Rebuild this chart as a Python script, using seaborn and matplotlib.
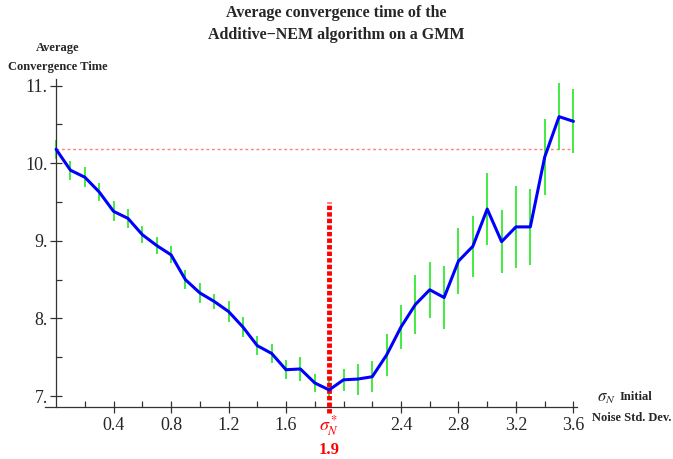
import numpy as np
import matplotlib
matplotlib.use("Agg")
import matplotlib.pyplot as plt
import seaborn as sns

# noise std values and average convergence times
sigma = [0.0, 0.1, 0.2, 0.3, 0.4, 0.5, 0.6, 0.7, 0.8, 0.9,
         1.0, 1.1, 1.2, 1.3, 1.4, 1.5, 1.6, 1.7, 1.8, 1.9,
         2.0, 2.1, 2.2, 2.3, 2.4, 2.5, 2.6, 2.7, 2.8, 2.9,
         3.0, 3.1, 3.2, 3.3, 3.4, 3.5, 3.6]
avg_time = [10.18, 9.91, 9.82, 9.63, 9.38, 9.29, 9.08, 8.94, 8.82, 8.50,
            8.33, 8.22, 8.09, 7.89, 7.65, 7.55, 7.34, 7.35, 7.17, 7.08,
            7.21, 7.22, 7.25, 7.53, 7.89, 8.18, 8.37, 8.27, 8.74, 8.93,
            9.41, 8.99, 9.18, 9.18, 10.08, 10.60, 10.54]
err = [0.125, 0.125, 0.13, 0.12, 0.13, 0.12, 0.11, 0.11, 0.11, 0.12,
       0.13, 0.10, 0.13, 0.13, 0.12, 0.12, 0.12, 0.15, 0.12, 0.13,
       0.14, 0.20, 0.20, 0.27, 0.28, 0.38, 0.36, 0.41, 0.43, 0.39,
       0.46, 0.41, 0.53, 0.49, 0.49, 0.43, 0.41]

best_sigma = 1.9
x_major = [0.4, 0.8, 1.2, 1.6, 2.4, 2.8, 3.2, 3.6]
x_minor = [0.2, 0.6, 1.0, 1.4, 1.8, 2.0, 2.2, 2.6, 3.0, 3.4]
y_major = [7, 8, 9, 10, 11]
y_minor = [7.5, 8.5, 9.5, 10.5]

sns.set_style("white")
plt.rcParams["font.family"] = ["Liberation Serif", "DejaVu Serif"]
plt.rcParams["mathtext.fontset"] = "stix"

fig = plt.figure(figsize=(6.73, 4.59), dpi=100)
ax = fig.add_axes([0.0669, 0.1133, 0.7905, 0.7137])

# error bars
ax.errorbar(sigma, avg_time, yerr=err, fmt="none", ecolor="#22e622",
            elinewidth=1.2, capsize=0, zorder=2)

# reference line at the noiseless value
ax.plot([0, sigma[-1]], [avg_time[0], avg_time[0]], color="#ff7f7f",
        lw=1.0, linestyle=(0, (2, 2)), zorder=1)

# optimal noise marker
ax.plot([best_sigma, best_sigma], [6.78, 9.5], color="red", lw=3.5,
        linestyle=(0, (0.9, 0.45)), solid_capstyle="butt",
        dash_capstyle="butt", clip_on=False, zorder=3)

sns.lineplot(x=sigma, y=avg_time, ax=ax, color="#0000ff", lw=2.2,
             zorder=4)

ax.set_xlim(-0.077, 3.625)
ax.set_ylim(6.86, 11.08)

for s in ["top", "right"]:
    ax.spines[s].set_visible(False)
ax.spines["left"].set_position(("data", 0))
for s in ["left", "bottom"]:
    ax.spines[s].set_color("#333333")
    ax.spines[s].set_linewidth(0.9)

ax.set_xticks(x_major)
ax.set_xticklabels([f"{v:.1f}" for v in x_major])
ax.set_xticks(x_minor, minor=True)
ax.set_yticks(y_major)
ax.set_yticklabels([f"{v}." for v in y_major])
ax.set_yticks(y_minor, minor=True)
ax.tick_params(axis="both", which="both", bottom=True, left=True)
ax.tick_params(axis="both", which="major", direction="inout", length=8,
               width=0.9, color="#333333", labelsize=13)
ax.tick_params(axis="both", which="minor", direction="in", length=4,
               width=0.9, color="#333333")
ax.tick_params(axis="x", which="major", pad=3)
ax.tick_params(axis="y", which="major", pad=2)
ax.grid(False)

# optimal sigma labels under the axis
trans = ax.get_xaxis_transform()
ax.annotate(r"$\sigma_N^*$", xy=(best_sigma, 0), xycoords=trans,
            xytext=(0, -19), textcoords="offset pixels", ha="center",
            va="center", color="red", fontsize=13)
ax.annotate("1.9", xy=(best_sigma, 0), xycoords=trans,
            xytext=(0, -43), textcoords="offset pixels", ha="center",
            va="center", color="red", fontsize=12, fontweight="bold")

fig.suptitle("Average convergence time of the\nAdditive\u2212NEM algorithm on a GMM",
             x=0.5, y=0.99, fontsize=11.5, fontweight="bold",
             linespacing=1.5)

fig.text(58 / 673, 1 - 48 / 459, "Average", ha="center", va="center",
         fontsize=9, fontweight="bold")
fig.text(58 / 673, 1 - 67 / 459, "Convergence Time", ha="center",
         va="center", fontsize=9, fontweight="bold")
fig.text(606 / 673, 1 - 398 / 459, r"$\sigma_N$", ha="center",
         va="center", fontsize=12)
fig.text(620 / 673, 1 - 397 / 459, "Initial", ha="left",
         va="center", fontsize=9, fontweight="bold")
fig.text(592 / 673, 1 - 418 / 459, "Noise Std. Dev.", ha="left",
         va="center", fontsize=9, fontweight="bold")

fig.savefig("out.png", dpi=100)
